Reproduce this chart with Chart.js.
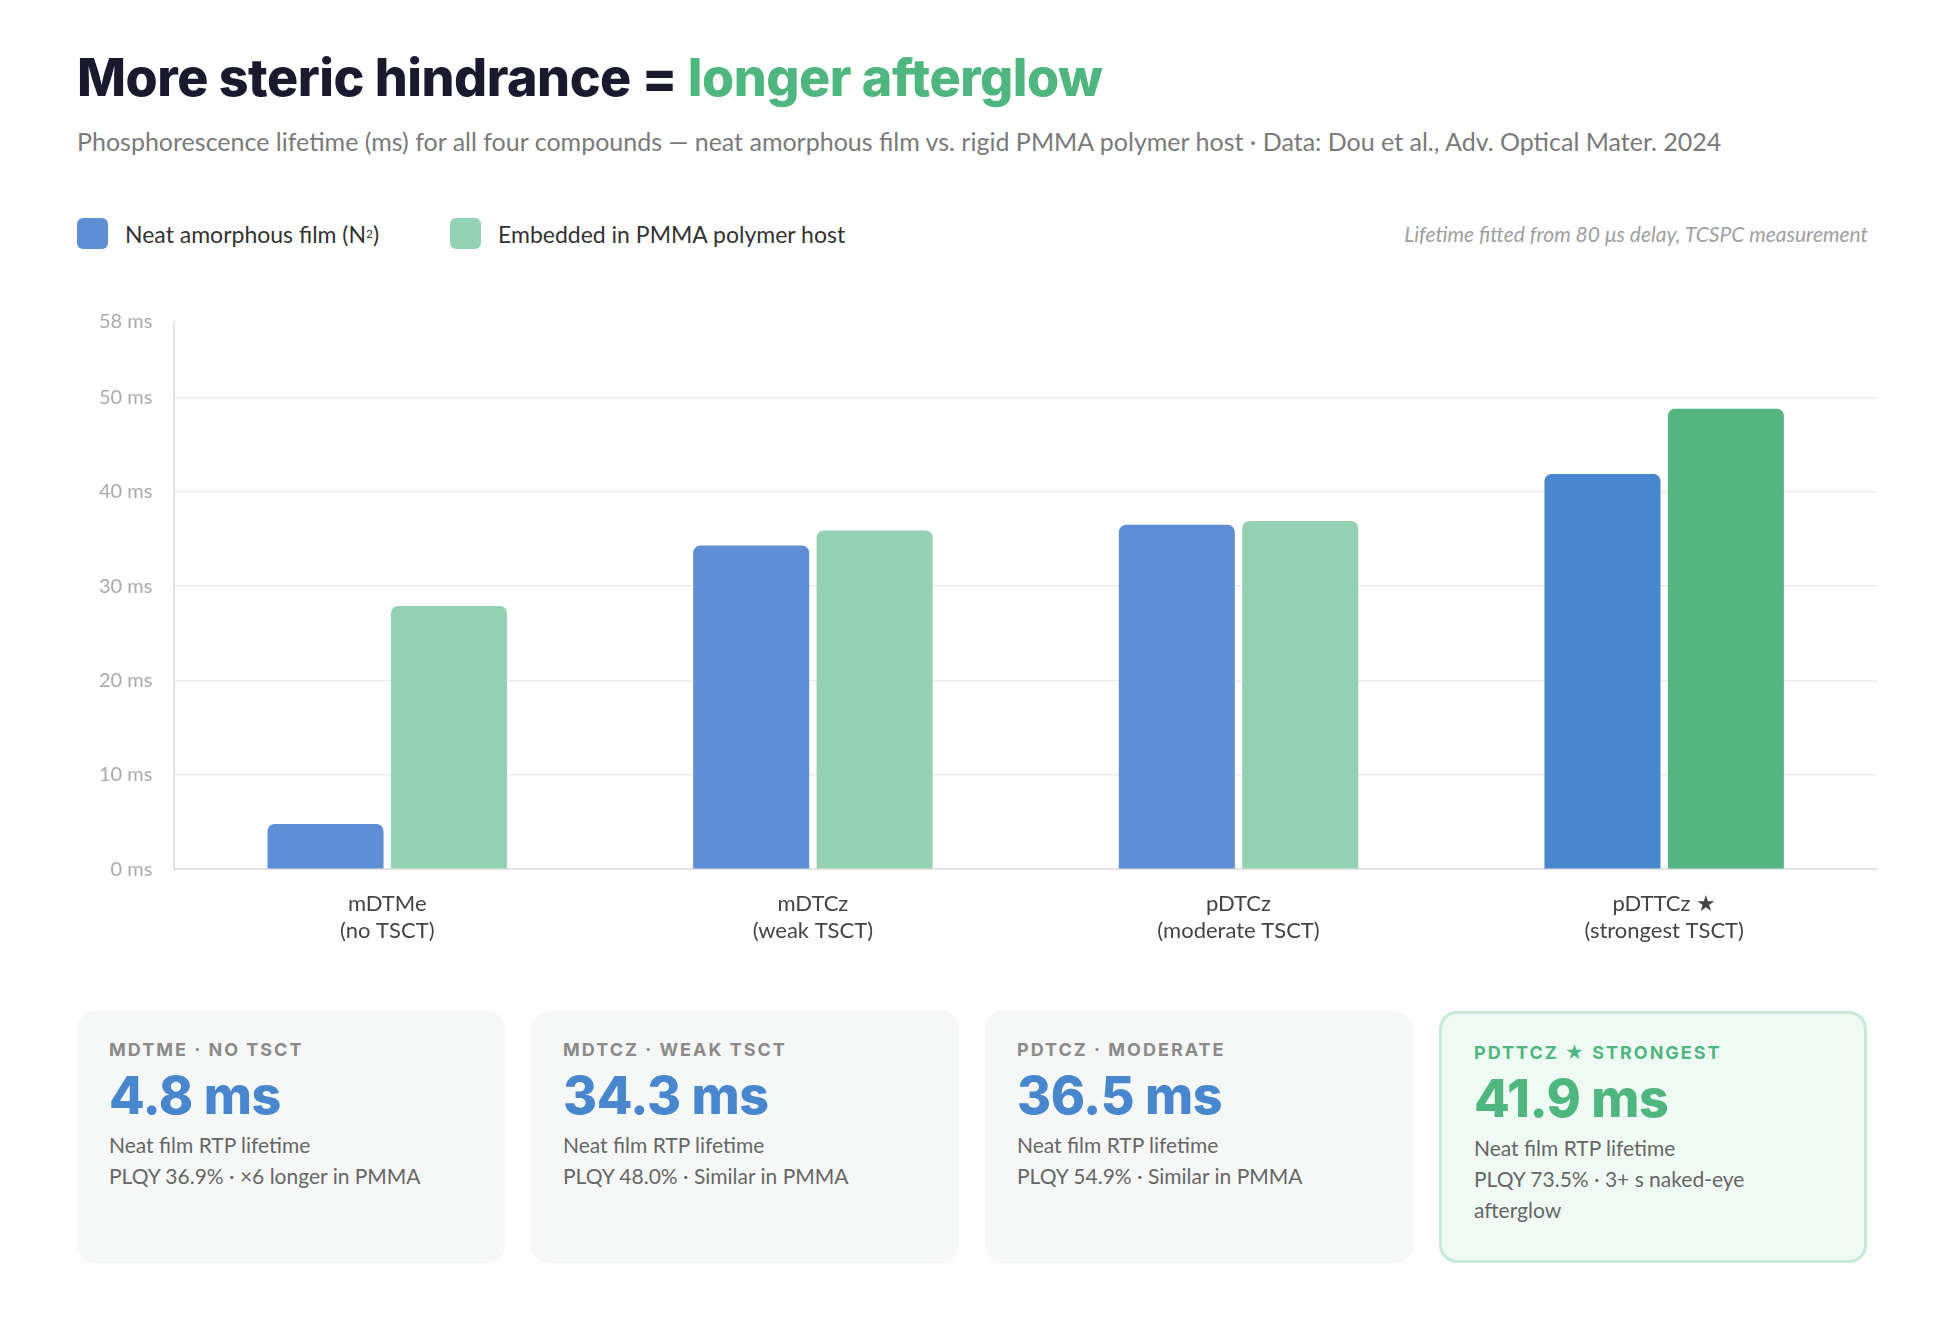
<!DOCTYPE html>
<html><head><meta charset="utf-8">
<script src="https://cdn.jsdelivr.net/npm/chart.js@4"></script>
<style>
body{margin:0;background:#fff;font-family:Lato,"Open Sans",sans-serif;width:1942px;height:1344px;position:relative;overflow:hidden}
h1{position:absolute;left:77px;top:46px;margin:0;font:800 52px Inter,sans-serif;color:#1a1a2e;letter-spacing:-0.5px}
h1 span{color:#4fb67f}
.sub{position:absolute;left:77px;top:126px;font-size:25px;color:#7a7a7a}
.leg{position:absolute;top:218px;font-size:23px;color:#333;display:flex;align-items:center}
.leg i{display:inline-block;width:31px;height:31px;border-radius:6px;margin-right:17px}
.note{position:absolute;right:74px;top:221px;font-size:21px;font-style:italic;color:#a0a0a0}
#wrap{position:absolute;left:77px;top:288px;width:1800px;height:670px}
.card{position:absolute;top:1011px;width:428px;height:252px;background:#f6f8f7;border-radius:18px;box-sizing:border-box;padding:28px 32px}
.card .k{font:700 18px Inter,sans-serif;letter-spacing:2px;color:#8a8a8a}
.card .v{font:800 52px Inter,sans-serif;color:#4886cd;margin-top:4px;letter-spacing:-0.5px}
.card .t{font-size:21px;color:#666;line-height:31px;margin-top:2px}
.card.s{background:#f0faf4;border:3px solid #c5ead6}
.card.s .k,.card.s .v{color:#4fb67f}
</style></head><body>
<h1>More steric hindrance = <span>longer afterglow</span></h1>
<div class="sub">Phosphorescence lifetime (ms) for all four compounds — neat amorphous film vs. rigid PMMA polymer host · Data: Dou et al., Adv. Optical Mater. 2024</div>
<div class="leg" style="left:77px"><i style="background:#5e8fd4"></i>Neat amorphous film (N<sub style="font-size:12px">2</sub>)</div>
<div class="leg" style="left:450px"><i style="background:#94d1b2"></i>Embedded in PMMA polymer host</div>
<div class="note">Lifetime fitted from 80 μs delay, TCSPC measurement</div>
<div id="wrap"><canvas id="c"></canvas></div>
<div class="card" style="left:77px"><div class="k">MDTME · NO TSCT</div><div class="v">4.8 ms</div><div class="t">Neat film RTP lifetime<br>PLQY 36.9% · ×6 longer in PMMA</div></div>
<div class="card" style="left:531px"><div class="k">MDTCZ · WEAK TSCT</div><div class="v">34.3 ms</div><div class="t">Neat film RTP lifetime<br>PLQY 48.0% · Similar in PMMA</div></div>
<div class="card" style="left:985px"><div class="k">PDTCZ · MODERATE</div><div class="v">36.5 ms</div><div class="t">Neat film RTP lifetime<br>PLQY 54.9% · Similar in PMMA</div></div>
<div class="card s" style="left:1439px"><div class="k">PDTTCZ ★ STRONGEST</div><div class="v">41.9 ms</div><div class="t">Neat film RTP lifetime<br>PLQY 73.5% · 3+ s naked-eye<br>afterglow</div></div>
<script>
const categories=[["mDTMe","(no TSCT)"],["mDTCz","(weak TSCT)"],["pDTCz","(moderate TSCT)"],["pDTTCz ★","(strongest TSCT)"]];
const neatValues=[4.8,34.3,36.5,41.9];
const pmmaValues=[27.9,35.9,36.9,48.8];
const neatColors=["#5e8fd4","#5e8fd4","#5e8fd4","#4886cd"];
const pmmaColors=["#94d1b2","#94d1b2","#94d1b2","#55b581"];
const yMax=58;
new Chart(document.getElementById('c'),{type:'bar',
data:{labels:categories,datasets:[
{label:'Neat',data:neatValues,backgroundColor:neatColors,borderRadius:{topLeft:7,topRight:7},borderSkipped:'bottom',categoryPercentage:0.58,barPercentage:0.94},
{label:'PMMA',data:pmmaValues,backgroundColor:pmmaColors,borderRadius:{topLeft:7,topRight:7},borderSkipped:'bottom',categoryPercentage:0.58,barPercentage:0.94}]},
options:{responsive:true,maintainAspectRatio:false,animation:false,
layout:{padding:{top:8,right:0}},
plugins:{legend:{display:false},tooltip:{enabled:false}},
scales:{
x:{grid:{display:false},border:{color:'#e3e3e3',width:2},
ticks:{color:'#444',padding:14,font:{family:'Lato',size:22},
callback:function(v,i){return categories[i];}}},
y:{min:0,max:yMax,ticks:{stepSize:10,color:'#aaa',padding:22,font:{family:'Lato',size:20},callback:v=>v+' ms'},
border:{color:'#e3e3e3',width:2},
grid:{color:c=>(c.tick&&(c.tick.value===0||c.tick.value===yMax))?'rgba(0,0,0,0)':'#ececec',drawTicks:false,lineWidth:1.5},
border:{color:'#e3e3e3',width:2,dash:[0]}}
}}});
</script>
</body></html>
